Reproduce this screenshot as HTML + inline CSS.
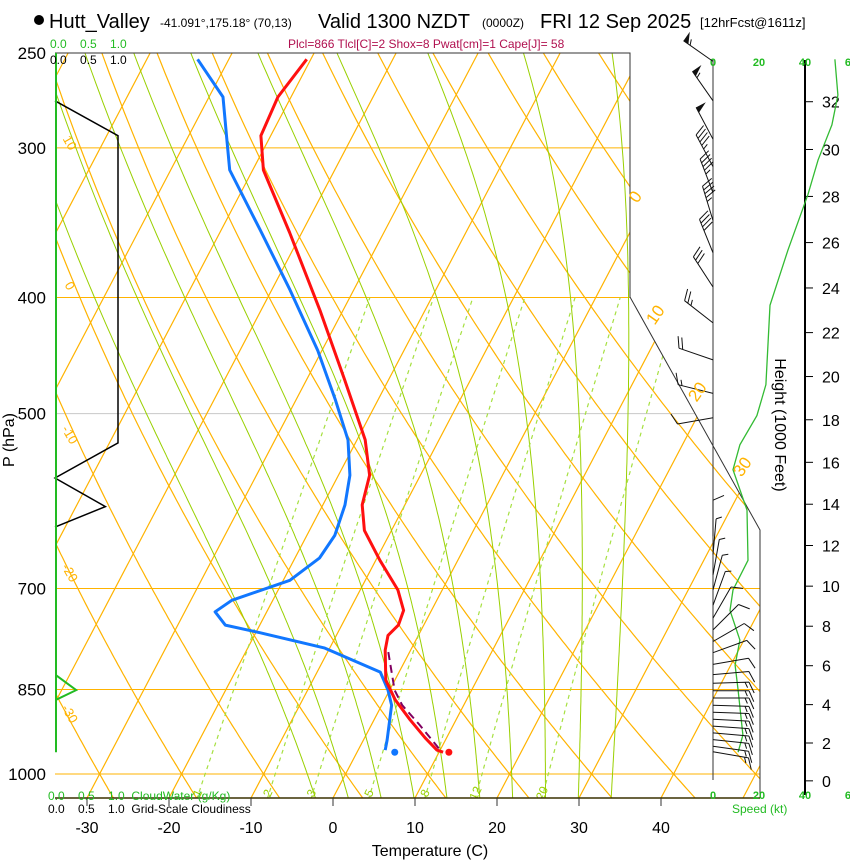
<!DOCTYPE html>
<html><head><meta charset="utf-8"><style>
html,body{margin:0;padding:0;background:#fff;}
svg{display:block;font-family:"Liberation Sans",sans-serif;}
</style></head><body>
<div style="position:relative;width:850px;height:860px;">
<svg id="c" width="850" height="860" viewBox="0 0 850 860" xmlns="http://www.w3.org/2000/svg" style="position:absolute;left:0;top:0">
<defs><clipPath id="plotclip"><polygon points="55,53 630,53 630,297 760,530 760,798 55,798"/></clipPath></defs>
<g>
<circle cx="39" cy="20" r="5" fill="#000"/>
<text x="49" y="28" font-size="20">Hutt_Valley</text>
<text x="160" y="27" font-size="12">-41.091°,175.18° (70,13)</text>
<text x="318" y="28" font-size="20">Valid 1300 NZDT</text>
<text x="482" y="27" font-size="12">(0000Z)</text>
<text x="540" y="28" font-size="20">FRI 12 Sep 2025</text>
<text x="700" y="27" font-size="13">[12hrFcst@1611z]</text>
<text x="288" y="48" font-size="12" fill="#b0104f">Plcl=866 Tlcl[C]=2 Shox=8 Pwat[cm]=1 Cape[J]= 58</text>
</g>
<g id="grid" clip-path="url(#plotclip)"></g>
<g id="frame"></g>
<g id="prof"></g>
<g id="wind"></g>
<g id="labels"></g>
<text x="50" y="48" font-size="12" fill="#22bb22">0.0&#160;&#160;&#160;&#160;0.5&#160;&#160;&#160;&#160;1.0</text>
<text x="50" y="64" font-size="12">0.0&#160;&#160;&#160;&#160;0.5&#160;&#160;&#160;&#160;1.0</text>
<text x="48" y="800" font-size="12" fill="#22bb22">0.0&#160;&#160;&#160;&#160;0.5&#160;&#160;&#160;&#160;1.0&#160;&#160;CloudWater (g/Kg)</text>
<text x="48" y="813" font-size="12">0.0&#160;&#160;&#160;&#160;0.5&#160;&#160;&#160;&#160;1.0&#160;&#160;Grid-Scale Cloudiness</text>
<text x="732" y="813" font-size="12" fill="#22bb22">Speed (kt)</text>
<text x="430" y="856" font-size="16" text-anchor="middle">Temperature (C)</text>
<text x="14" y="440" font-size="16" text-anchor="middle" transform="rotate(-90 14 440)">P (hPa)</text>
<text x="775" y="425" font-size="16" text-anchor="middle" transform="rotate(90 775 425)">Height (1000 Feet)</text>
</svg>
</div>
<script>
// ---- data ----
const isotherms = [-110,-100,-90,-80,-70,-60,-50,-40,-30,-20,-10,0,10,20,30,40,50];
const dryThetas = [-30,-20,-10,0,10,20,30,40,50,60,70,80,90,100,110,120,130,140,150,160];
const moistStarts = [-2,2,6,10,14,18,22,26,30,34];
const mixRatios = [1,2,3,5,8,12,20];
const isobars = [300,400,700,850,1000];
const pTicks = [250,300,400,500,700,850,1000];
const tTicks = [-30,-20,-10,0,10,20,30,40];
const tempP = [253,272,293,313,353,410,469,526,563,596,626,663,702,730,751,766,788,835,867,901,933,955,959];
const tempT = [-50.5,-51.6,-51.2,-48.7,-41.5,-32.8,-25.3,-19.0,-16.2,-15.2,-13.3,-9.5,-5.4,-3.4,-3.1,-3.7,-3.1,-1.1,1.3,4.4,7.4,9.6,10.5];
const dewP = [253,272,293,313,351,394,443,487,526,563,596,632,660,689,716,732,751,762,785,822,851,876,937,955];
const dewT = [-63.8,-58.3,-55.4,-52.8,-45.3,-37.8,-30.5,-25.2,-21.1,-18.6,-17.3,-16.6,-17.0,-19.2,-25.0,-26.3,-24.2,-19.5,-10.6,-2.3,-0.2,1.2,2.9,3.3];
const parcelP = [791,851,876,910,955];
const parcelT = [-2.6,0.6,2.5,5.9,10.0];
const sfcP = 959, sfcT = 11.2, sfcTd = 4.6;
const cloudP = [274,293,529,566,598,622];
const cloudFrac = [0,1,1,0,0.8,0];
const cwP = [253,827,851,867,959];
const cwVal = [0,0,0.32,0,0];
const spdP = [253,271,287,307,328,365,387,406,473,502,531,557,602,663,702,730,773,811,851,928,959];
const spdKt = [53,54.3,51.7,45.7,41.3,32.6,28.3,24.8,23,19.1,11.7,8.7,14.8,15.2,8.7,7.4,11.7,9.6,10.9,13,10.9];
const barbP = [254,274,295,311,327,345,367,392,420,451,481,504,633,656,682,702,723,741,758,775,792,810,826,840,852,864,876,888,900,912,924,936,948,958];
const barbDir = [305,325,332,332,339,343,338,327,308,289,284,260,0,5,10,15,20,30,45,60,70,80,85,88,90,90,92,92,93,94,95,96,98,100];
const barbSpd = [55,55,50,45,45,45,40,30,25,20,15,10,10,5,5,5,5,10,10,10,10,10,10,15,15,15,15,15,15,15,15,15,15,15];
const heightsKft = [0,2,4,6,8,10,12,14,16,18,20,22,24,26,28,30,32];
const speedTicks = [0,20,40,60];

// ---- axes ----
const Y = p => 774 + 520*Math.log(p/1000);
const X = (T,p) => 333 + 8.2*T + 0.525*(798 - Y(p));
const SX = s => 713 + 2.3*s;
const CX = f => 55 + 63*f;
const es = T => 6.112*Math.exp(17.67*T/(T+243.5));
const NS = "http://www.w3.org/2000/svg";
function mk(tag, attrs, parent){const e=document.createElementNS(NS,tag);for(const k in attrs)e.setAttribute(k,attrs[k]);parent.appendChild(e);return e;}
const grid=document.getElementById('grid'), frame=document.getElementById('frame'), prof=document.getElementById('prof'), wind=document.getElementById('wind'), labels=document.getElementById('labels');
function pathD(pts){return pts.map((q,i)=>(i?'L':'M')+q[0].toFixed(1)+','+q[1].toFixed(1)).join('');}
const pLevels=[]; for(let p=1050;p>=250;p-=5)pLevels.push(p);

isobars.forEach(p=>{const l=mk('line',{x1:55,x2:760,y1:Y(p),y2:Y(p),stroke:'#ffb300','stroke-width':1},grid);

});
{const l=mk('line',{x1:55,x2:760,y1:Y(500),y2:Y(500),stroke:'#c8c8c8','stroke-width':1},grid);

}
isotherms.forEach(T=>{const l=mk('line',{x1:X(T,1050),y1:Y(1050),x2:X(T,250),y2:Y(250),stroke:'#ffb300','stroke-width':1.2},grid);

});
dryThetas.forEach(th=>{const pts=pLevels.map(p=>[X((th+273.15)*Math.pow(p/1000,0.2857)-273.15,p),Y(p)]);
const e=mk('path',{d:pathD(pts),fill:'none',stroke:'#ffb300','stroke-width':1.2},grid);

});
function moistPts(T0){let T=T0+273.15;const pts=[];const Rd=287,cp=1005,L=2.5e6,eps=0.622;
const f=(T,p)=>{const e=es(T-273.15);const rs=eps*e/(p-e);return (Rd*T+L*rs)/(cp+L*L*rs*eps/(Rd*T*T))/p;};
for(let p=1050;p>=250;p-=5){pts.push([X(T-273.15,p),Y(p)]);const k1=f(T,p);const k2=f(T-5*k1/2,p-2.5);T-=5*k2;}
return pts;}
moistStarts.forEach(T0=>{const e=mk('path',{d:pathD(moistPts(T0)),fill:'none',stroke:'#99d000','stroke-width':1},grid);

});
const tdW=(w,p)=>{const e=w*p/(622+w);const l=Math.log(e/6.112);return 243.5*l/(17.67-l);};
mixRatios.forEach(w=>{const pts=pLevels.filter(p=>p>=400).map(p=>[X(tdW(w,p),p),Y(p)]);
const e=mk('path',{d:pathD(pts),fill:'none',stroke:'#a6e040','stroke-width':1.2,'stroke-dasharray':'4,4'},grid);


const lx=X(tdW(w,1035),1035)+2, ly=Y(1035)+3;
const t=mk('text',{x:lx,y:ly,'font-size':12,fill:'#99d000','text-anchor':'middle',transform:'rotate(-65 '+lx+' '+ly+')'},grid);
t.textContent=w;

});

mk('polyline',{points:'55,53 630,53 630,297 760,530 760,798',fill:'none',stroke:'#333','stroke-width':1},frame);
mk('line',{x1:55,x2:760,y1:798,y2:798,stroke:'#3a3000','stroke-width':1.5},frame);
mk('line',{x1:56,x2:56,y1:53,y2:752,stroke:'#22bb22','stroke-width':2},frame);
tTicks.forEach(T=>{const x=333+8.2*T;mk('line',{x1:x,x2:x,y1:798,y2:806,stroke:'#333'},frame);
const t=mk('text',{x:x,y:833,'font-size':16,'text-anchor':'middle'},labels);t.textContent=T;

});
pTicks.forEach(p=>{const t=mk('text',{x:46,y:Y(p)+6,'font-size':17,'text-anchor':'end'},labels);t.textContent=p;

});
[[0,200,640],[10,318,660],[20,395,702],[30,470,747]].forEach(a=>{const t=mk('text',{x:a[2],y:a[1],'font-size':17,fill:'#ffb300','text-anchor':'middle',transform:'rotate(-55 '+a[2]+' '+a[1]+')'},labels);t.textContent=a[0];

});
[[10,145],[0,288],[-10,437],[-20,575],[-30,716]].forEach(a=>{const t=mk('text',{x:66,y:a[1],'font-size':13,fill:'#ffb300','text-anchor':'middle',transform:'rotate(60 66 '+a[1]+')'},labels);t.textContent=a[0];

});

{const e=mk('path',{d:pathD(cloudP.map((p,i)=>[CX(cloudFrac[i]),Y(p)])),fill:'none',stroke:'#000','stroke-width':1.5},prof);

}
{const e=mk('path',{d:pathD(cwP.map((p,i)=>[CX(cwVal[i])+1,Y(p)])),fill:'none',stroke:'#22bb22','stroke-width':2},prof);

}
{const e=mk('path',{d:pathD(parcelP.map((p,i)=>[X(parcelT[i],p),Y(p)])),fill:'none',stroke:'#800060','stroke-width':2,'stroke-dasharray':'8,5'},prof);

}
{const e=mk('path',{d:pathD(dewP.map((p,i)=>[X(dewT[i],p),Y(p)])),fill:'none',stroke:'#1177ff','stroke-width':3,'stroke-linejoin':'round'},prof);

}
{const e=mk('path',{d:pathD(tempP.map((p,i)=>[X(tempT[i],p),Y(p)])),fill:'none',stroke:'#ff1010','stroke-width':3,'stroke-linejoin':'round'},prof);

}
{const e=mk('circle',{cx:X(sfcT,sfcP),cy:Y(sfcP),r:3.5,fill:'#ff1010'},prof);

}
{const e=mk('circle',{cx:X(sfcTd,sfcP),cy:Y(sfcP),r:3.5,fill:'#1177ff'},prof);

}

mk('line',{x1:713,x2:713,y1:60,y2:780,stroke:'#333','stroke-width':1},wind);
mk('line',{x1:805,x2:805,y1:60,y2:795,stroke:'#000','stroke-width':2},wind);
speedTicks.forEach(s=>{[66,799].forEach(yy=>{const t=mk('text',{x:SX(s),y:yy,'font-size':11,'font-weight':'bold',fill:'#22bb22','text-anchor':'middle'},wind);t.textContent=s;

});});
heightsKft.forEach(h=>{const z=h*304.8;const p=1013.25*Math.pow(1-2.25577e-5*z,5.25588);const y=Y(p);
mk('line',{x1:805,x2:813,y1:y,y2:y,stroke:'#000'},wind);
const t=mk('text',{x:822,y:y+6,'font-size':16},wind);t.textContent=h;

});
{const e=mk('path',{d:pathD(spdP.map((p,i)=>[SX(spdKt[i]),Y(p)])),fill:'none',stroke:'#33bb33','stroke-width':1.3},wind);

}
barbP.forEach((p,i)=>{const bx=713,by=Y(p);const a=barbDir[i]*Math.PI/180;const ux=Math.sin(a),uy=-Math.cos(a);const L=36;
const tx=bx+L*ux,ty=by+L*uy;const px=-uy,py=ux;
let d='M'+bx+','+by.toFixed(1)+'L'+tx.toFixed(1)+','+ty.toFixed(1);let s=barbSpd[i];let pos=0;let tri='';
while(s>=50){const x0=tx-pos*ux,y0=ty-pos*uy;const x1=x0-6*ux,y1=y0-6*uy;tri+='M'+x0.toFixed(1)+','+y0.toFixed(1)+'L'+(x0+11*px).toFixed(1)+','+(y0+11*py).toFixed(1)+'L'+x1.toFixed(1)+','+y1.toFixed(1)+'Z';pos+=8;s-=50;}
while(s>=10){const x0=tx-pos*ux,y0=ty-pos*uy;d+='M'+x0.toFixed(1)+','+y0.toFixed(1)+'l'+(12*(px*0.92+ux*0.4)).toFixed(1)+','+(12*(py*0.92+uy*0.4)).toFixed(1);pos+=4;s-=10;}
if(s>=5){const x0=tx-pos*ux,y0=ty-pos*uy;d+='M'+x0.toFixed(1)+','+y0.toFixed(1)+'l'+(6*(px*0.92+ux*0.4)).toFixed(1)+','+(6*(py*0.92+uy*0.4)).toFixed(1);}
const e=mk('path',{d:d,fill:'none',stroke:'#111','stroke-width':1},wind);


if(tri){const t=mk('path',{d:tri,fill:'#111'},wind);

}});
</script>
</body></html>
